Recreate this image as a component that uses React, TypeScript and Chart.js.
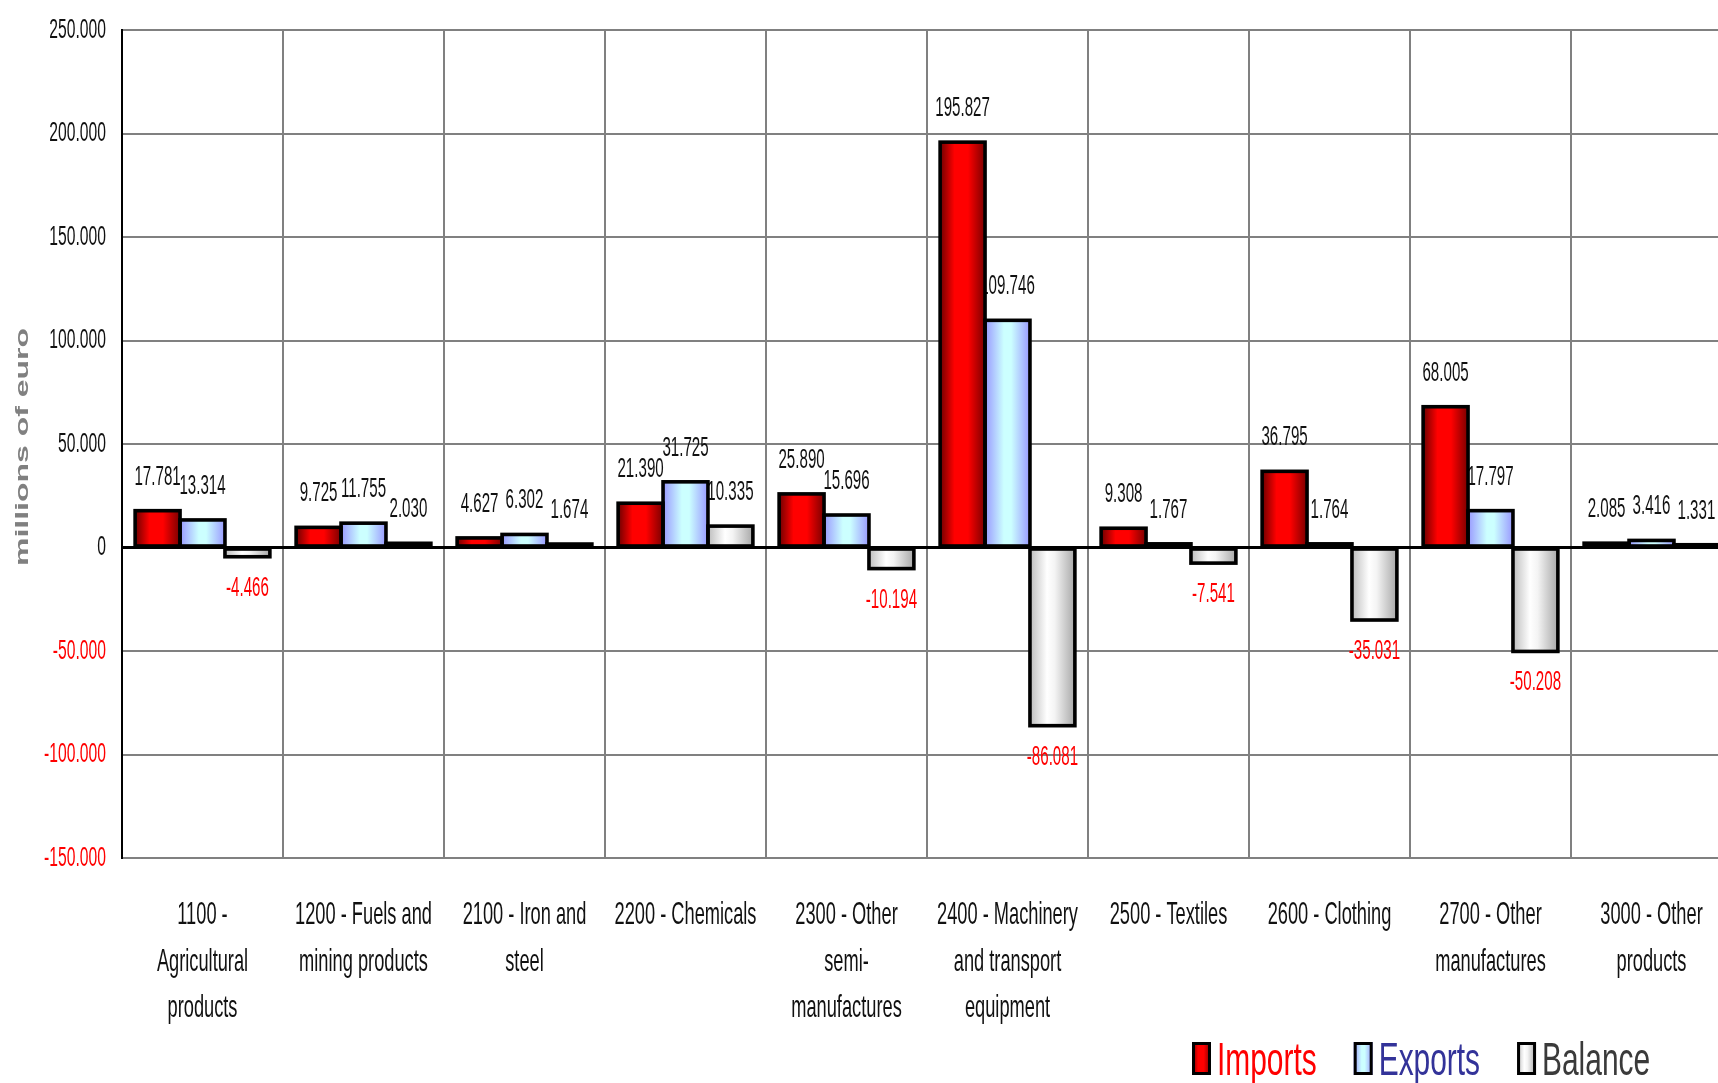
import { useEffect, useRef } from 'react';
import { Chart, registerables } from 'chart.js';

Chart.register(...registerables);

// Product groups (multi-line category labels)
const categories: string[][] = [
  ['1100 -', 'Agricultural', 'products'],
  ['1200 - Fuels and', 'mining products'],
  ['2100 - Iron and', 'steel'],
  ['2200 - Chemicals'],
  ['2300 - Other', 'semi-', 'manufactures'],
  ['2400 - Machinery', 'and transport', 'equipment'],
  ['2500 - Textiles'],
  ['2600 - Clothing'],
  ['2700 - Other', 'manufactures'],
  ['3000 - Other', 'products'],
];

// Values in millions of euro
const imports = [17781, 9725, 4627, 21390, 25890, 195827, 9308, 36795, 68005, 2085];
const exportsValues = [13314, 11755, 6302, 31725, 15696, 109746, 1767, 1764, 17797, 3416];
const balance = [-4466, 2030, 1674, 10335, -10194, -86081, -7541, -35031, -50208, 1331];

const seriesNames = ['Imports', 'Exports', 'Balance'];
const yMin = -150000;
const yMax = 250000;
const yStep = 50000;
const yTitle = 'millions of euro';

const FONT = "'Liberation Sans', Arial, sans-serif";
const OUTLINE = 3.6;

// Horizontal colour ramps used to give the bars their cylinder-like shading
const gradientStops: [number, string][][] = [
  [[0, '#6e0000'], [0.32, '#ff0000'], [0.62, '#ff0000'], [1, '#7a0000']],
  [[0, '#9999ff'], [0.42, '#ccffff'], [0.58, '#ccffff'], [1, '#9999ff']],
  [[0, '#bdbdbd'], [0.38, '#ffffff'], [0.55, '#f4f4f4'], [1, '#a8a8a8']],
];
const legendTextColors = ['#ff0000', '#333399', '#3a3a3a'];

const fmt = (v: number) =>
  (v < 0 ? '-' : '') + Math.abs(v).toString().replace(/\B(?=(\d{3})+(?!\d))/g, '.');

function makeGradient(ctx: CanvasRenderingContext2D, left: number, width: number, idx: number) {
  const g = ctx.createLinearGradient(left, 0, left + width, 0);
  for (const [o, c] of gradientStops[idx]) g.addColorStop(o, c);
  return g;
}

// Draws text compressed horizontally by factor sx
function squeezedText(
  ctx: CanvasRenderingContext2D,
  text: string,
  x: number,
  y: number,
  font: string,
  color: string,
  sx: number,
  align: 'left' | 'center' | 'right',
  baseline: CanvasTextBaseline,
) {
  ctx.save();
  ctx.font = font;
  ctx.fillStyle = color;
  ctx.textBaseline = baseline;
  ctx.textAlign = 'left';
  const w = ctx.measureText(text).width * sx;
  const left = align === 'center' ? x - w / 2 : align === 'right' ? x - w : x;
  ctx.translate(left, y);
  ctx.scale(sx, 1);
  ctx.fillText(text, 0, 0);
  ctx.restore();
  return w;
}

const tradePlugin = {
  id: 'tradeDecor',
  beforeDatasetsDraw(chart: any) {
    const ctx: CanvasRenderingContext2D = chart.ctx;
    chart.data.datasets.forEach((ds: any, di: number) => {
      const meta = chart.getDatasetMeta(di);
      meta.data.forEach((bar: any, i: number) => {
        const { x, y, width } = bar.getProps(['x', 'y', 'width'], true);
        bar.options = Object.assign({}, bar.options, {
          backgroundColor: makeGradient(ctx, x - width / 2, width, di),
        });
        // value labels (drawn under the bars)
        const v = ds.data[i] as number;
        const font = `27px ${FONT}`;
        if (v >= 0) squeezedText(ctx, fmt(v), x, y - 26, font, '#111', 0.56, 'center', 'alphabetic');
        else squeezedText(ctx, fmt(v), x, y + 39, font, '#ff0000', 0.56, 'center', 'alphabetic');
      });
    });
  },
  afterDatasetsDraw(chart: any) {
    // outlines centred on the bar edges, so that neighbouring bars share one edge
    const ctx: CanvasRenderingContext2D = chart.ctx;
    ctx.save();
    ctx.strokeStyle = '#000';
    ctx.lineWidth = OUTLINE;
    ctx.lineJoin = 'miter';
    chart.data.datasets.forEach((_ds: any, di: number) => {
      chart.getDatasetMeta(di).data.forEach((bar: any) => {
        const { x, y, base, width } = bar.getProps(['x', 'y', 'base', 'width'], true);
        const top = Math.min(y, base);
        ctx.strokeRect(x - width / 2, top, width, Math.abs(base - y));
      });
    });
    ctx.restore();
  },
  afterDraw(chart: any) {
    const ctx: CanvasRenderingContext2D = chart.ctx;
    const yScale = chart.scales.y;
    const xScale = chart.scales.x;
    const area = chart.chartArea;

    // y tick labels
    yScale.ticks.forEach((t: any) => {
      const py = yScale.getPixelForValue(t.value);
      squeezedText(ctx, fmt(t.value), yScale.right - 16, py, `28px ${FONT}`,
        t.value < 0 ? '#ff0000' : '#111', 0.56, 'right', 'middle');
    });

    // category labels
    categories.forEach((lines, i) => {
      const px = xScale.getPixelForValue(i);
      lines.forEach((line, li) => {
        squeezedText(ctx, line, px, area.bottom + 66 + li * 46.5, `32px ${FONT}`, '#111', 0.57, 'center', 'alphabetic');
      });
    });

    // y axis title
    ctx.save();
    ctx.font = `bold 19px ${FONT}`;
    const tw = ctx.measureText(yTitle).width;
    ctx.translate(23, (area.top + area.bottom) / 2 + 3);
    ctx.rotate(-Math.PI / 2);
    ctx.scale(238 / tw, 1);
    ctx.fillStyle = '#808080';
    ctx.textAlign = 'center';
    ctx.textBaseline = 'middle';
    ctx.fillText(yTitle, 0, 0);
    ctx.restore();

    // legend
    let lx = 1192;
    const boxTop = 1042;
    seriesNames.forEach((name, si) => {
      ctx.save();
      ctx.fillStyle = makeGradient(ctx, lx, 19, si);
      ctx.fillRect(lx, boxTop, 19, 33);
      ctx.lineWidth = 3;
      ctx.strokeStyle = '#000';
      ctx.strokeRect(lx + 1.5, boxTop + 1.5, 16, 30);
      ctx.restore();
      const w = squeezedText(ctx, name, lx + 25, 1075, `46px ${FONT}`, legendTextColors[si], 0.65, 'left', 'alphabetic');
      lx = lx + 25 + w + 37;
    });
  },
};

export default function App() {
  const ref = useRef<HTMLCanvasElement>(null);

  useEffect(() => {
    document.body.style.margin = '0';
    const canvas = ref.current!;
    const chart = new Chart(canvas, {
      type: 'bar',
      data: {
        labels: categories,
        datasets: [imports, exportsValues, balance].map((values, i) => ({
          label: seriesNames[i],
          data: values,
          backgroundColor: gradientStops[i][1][1],
          borderWidth: 0,
          inflateAmount: 0,
          categoryPercentage: 0.837,
          barPercentage: 1,
        })),
      },
      options: {
        responsive: false,
        animation: false,
        devicePixelRatio: 1,
        events: [],
        layout: { padding: { top: 30, right: 18, left: 0, bottom: 0 } },
        plugins: {
          legend: { display: false },
          tooltip: { enabled: false },
        },
        scales: {
          x: {
            ticks: { display: false },
            grid: { color: '#808080', lineWidth: 2, drawTicks: false, offset: true },
            border: { display: false },
            afterFit: (s: any) => {
              s.height = 225;
            },
          },
          y: {
            min: yMin,
            max: yMax,
            ticks: { display: false, stepSize: yStep },
            grid: {
              drawTicks: false,
              color: (c: any) => (c.tick && c.tick.value === 0 ? '#000' : '#808080'),
              lineWidth: (c: any) => (c.tick && c.tick.value === 0 ? 3 : 2),
            },
            border: { display: true, color: '#000', width: 2, z: 1 },
            afterFit: (s: any) => {
              s.width = 122;
            },
          },
        },
      },
      plugins: [tradePlugin],
    });
    return () => chart.destroy();
  }, []);

  return (
    <div style={{ width: 1718, height: 1083, overflow: 'hidden', background: '#fff' }}>
      <canvas ref={ref} width={1750} height={1083} style={{ display: 'block' }} />
    </div>
  );
}
